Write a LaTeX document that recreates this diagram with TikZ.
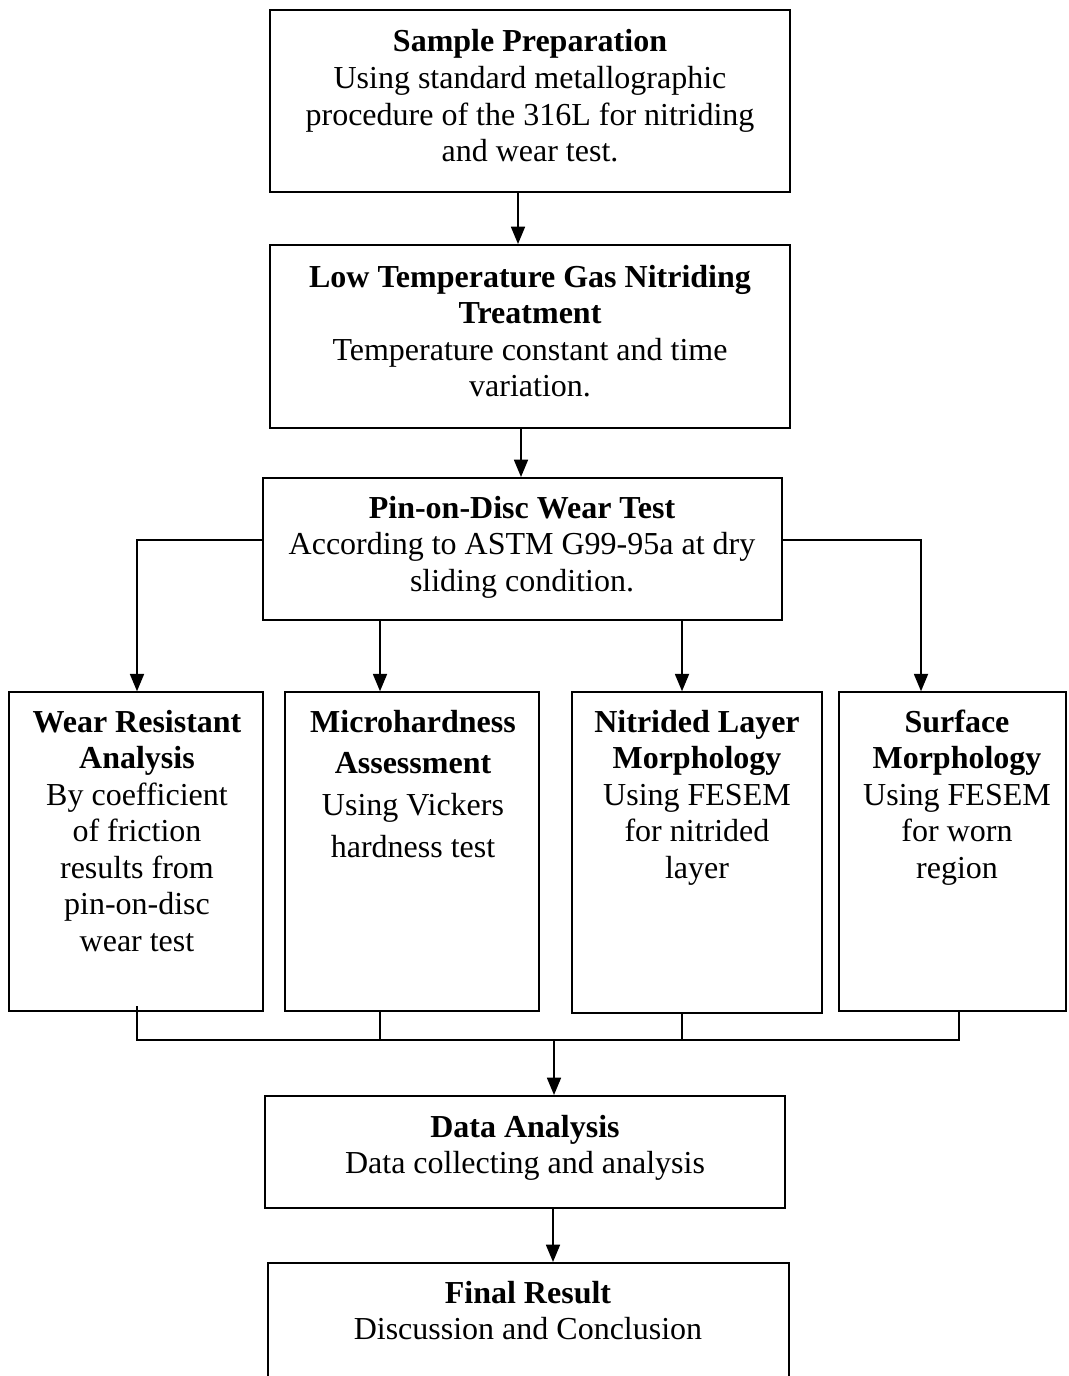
\documentclass[tikz,border=0pt]{standalone}
\usepackage{fontspec}
\setmainfont{Liberation Serif}
\usetikzlibrary{arrows.meta,fit,calc}
\begin{document}
\begin{tikzpicture}[x=0.75pt,y=-0.75pt,
  mainbox/.style={draw=black, line width=1.5pt, inner sep=0pt},
  rowbox/.style={draw=black, line width=1.1pt, inner sep=0pt},
  lbl/.style={anchor=base, inner sep=0pt, font=\fontsize{24}{27.4}\selectfont},
  lblwide/.style={anchor=base, inner sep=0pt, font=\fontsize{24}{31.3}\selectfont},
  arr/.style={line width=1.3pt, -{Triangle[length=13pt,width=10.5pt]}},
  link/.style={line width=1.1pt}
]
\useasboundingbox (0,0) rectangle (1068,1376);

% main boxes
\node[mainbox, fit={(270,10) (790,192)}] (b1) {};
\node[mainbox, fit={(270,245) (790,428)}] (b2) {};
\node[mainbox, fit={(263,478) (782,620)}] (b3) {};
\node[rowbox, fit={(9,692) (263,1011)}] (ra) {};
\node[rowbox, fit={(285,692) (539,1011)}] (rb) {};
\node[rowbox, fit={(572,692) (822,1013)}] (rc) {};
\node[rowbox, fit={(839,692) (1066,1011)}] (rd) {};
\node[mainbox, fit={(265,1096) (785,1208)}] (b4) {};
\node[mainbox, fit={(268,1263) (789,1392)}] (b5) {};

% texts
\node[lbl] (t1) at (530,52) {\begin{tabular}[t]{@{}c@{}}\textbf{Sample Preparation}\\Using standard metallographic\\procedure of the 316L for nitriding\\and wear test.\end{tabular}};
\node[lbl] (t2) at (530,287) {\begin{tabular}[t]{@{}c@{}}\textbf{Low Temperature Gas Nitriding}\\\textbf{Treatment}\\Temperature constant and time\\variation.\end{tabular}};
\node[lbl] (t3) at (522,518) {\begin{tabular}[t]{@{}c@{}}\textbf{Pin-on-Disc Wear Test}\\According to ASTM G99-95a at dry\\sliding condition.\end{tabular}};
\node[lbl] (ta) at (137,732) {\begin{tabular}[t]{@{}c@{}}\textbf{Wear Resistant}\\\textbf{Analysis}\\By coefficient\\of friction\\results from\\pin-on-disc\\wear test\end{tabular}};
\node[lblwide] (tb) at (413,732) {\begin{tabular}[t]{@{}c@{}}\textbf{Microhardness}\\\textbf{Assessment}\\Using Vickers\\hardness test\end{tabular}};
\node[lbl] (tc) at (697,732) {\begin{tabular}[t]{@{}c@{}}\textbf{Nitrided Layer}\\\textbf{Morphology}\\Using FESEM\\for nitrided\\layer\end{tabular}};
\node[lbl] (td) at (957,732) {\begin{tabular}[t]{@{}c@{}}\textbf{Surface}\\\textbf{Morphology}\\Using FESEM\\for worn\\region\end{tabular}};
\node[lbl] (t4) at (525,1137) {\begin{tabular}[t]{@{}c@{}}\textbf{Data Analysis}\\Data collecting and analysis\end{tabular}};
\node[lbl] (t5) at (528,1303) {\begin{tabular}[t]{@{}c@{}}\textbf{Final Result}\\Discussion and Conclusion\end{tabular}};

% vertical arrows
\draw[arr] (518,0 |- b1.south) -- (518,0 |- b2.north);
\draw[arr] (521,0 |- b2.south) -- (521,0 |- b3.north);

% branches
\coordinate (yl) at (0,540);
\draw[arr] (b3.west |- yl) -| (137,0 |- ra.north);
\draw[arr] (b3.east |- yl) -| (921,0 |- rd.north);
\draw[arr] (380,0 |- b3.south) -- (380,0 |- rb.north);
\draw[arr] (682,0 |- b3.south) -- (682,0 |- rc.north);

% bracket
\coordinate (bj) at (554,1040);
\draw[link] (137,1006) -- (137,0 |- bj) -- (959,0 |- bj) -- (959,0 |- rd.south);
\draw[link] (380,0 |- rb.south) -- (380,0 |- bj);
\draw[link] (682,0 |- rc.south) -- (682,0 |- bj);
\draw[arr] (bj) -- (bj |- b4.north);
\draw[arr] (553,0 |- b4.south) -- (553,0 |- b5.north);
\end{tikzpicture}
\end{document}
